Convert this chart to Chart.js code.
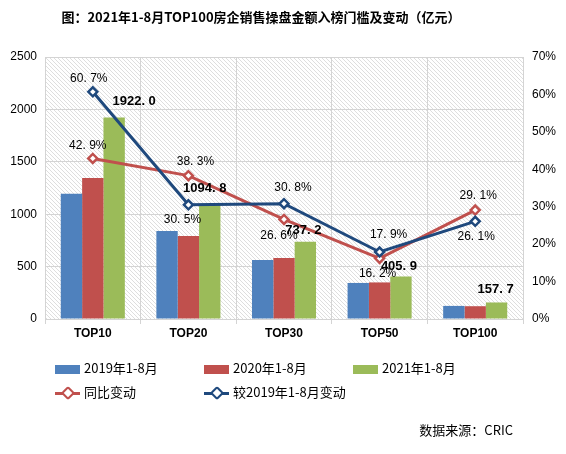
<!DOCTYPE html>
<html>
<head>
<meta charset="utf-8">
<script src="https://cdn.jsdelivr.net/npm/chart.js@4/dist/chart.umd.min.js"></script>
<style>
    body { margin: 0; background: #fff; font-family: 'Liberation Sans', Arial, sans-serif; }
    #wrap { position: relative; width: 566px; height: 454px; overflow: hidden; }
    #chart { position: absolute; left: 0; top: 0; }
    #title { position: absolute; left: 0; width: 522px; top: 7px; text-align: center;
        font: bold 13px 'Noto Sans CJK SC', sans-serif; color: #000; }
    .item { position: absolute; font: 13px 'Noto Sans CJK SC', sans-serif; color: #000; line-height: 16px; }
    .item i { display: inline-block; vertical-align: middle; margin-right: 4px; }
    .sw { width: 25px; height: 9px; }
    .ln { width: 25px; height: 3px; position: relative; }
    .ln b { position: absolute; left: 8px; top: -3.5px; width: 6px; height: 6px; background: #fff;
        border: 2px solid; transform: rotate(45deg); border-radius: 2px; }
    #src { position: absolute; right: 53px; top: 420px; font: 13px 'Noto Sans CJK SC', sans-serif; }
</style>
</head>
<body>
<div id="wrap">
    <canvas id="chart" width="566" height="454"></canvas>
    <div id="title">图：2021年1-8月TOP100房企销售操盘金额入榜门槛及变动（亿元）</div>
    <div class="item" style="left:55px;top:360px"><i class="sw" style="background:#4F81BD"></i>2019年1-8月</div>
    <div class="item" style="left:204px;top:360px"><i class="sw" style="background:#C0504D"></i>2020年1-8月</div>
    <div class="item" style="left:353px;top:360px"><i class="sw" style="background:#9BBB59"></i>2021年1-8月</div>
    <div class="item" style="left:55px;top:384px"><i class="ln" style="background:#C0504D"><b style="border-color:#C0504D"></b></i>同比变动</div>
    <div class="item" style="left:204px;top:384px"><i class="ln" style="background:#1F497D"><b style="border-color:#1F497D"></b></i>较2019年1-8月变动</div>
    <div id="src">数据来源：CRIC</div>
</div>
<script>
const categories = ['TOP10', 'TOP20', 'TOP30', 'TOP50', 'TOP100'];
const amount2019 = [1196, 839, 564, 344, 125];
const amount2020 = [1345, 792, 582, 349, 122];
const amount2021 = [1922.0, 1094.8, 737.2, 405.9, 157.7];
const yoyChange = [42.9, 38.3, 26.6, 16.2, 29.1];
const vs2019Change = [60.7, 30.5, 30.8, 17.9, 26.1];
const leftTicks = [0, 500, 1000, 1500, 2000, 2500];
const rightTicks = [0, 10, 20, 30, 40, 50, 60, 70];

// label offsets (px) per point, tuned to the reference
const labelOffsets = {
    2: [[20, -16], [-5, -16], [-2, -11], [-2, -10], [-1, -13]],
    3: [[-5, -13], [7, -14], [-5, 16], [-2, 15], [3, -14]],
    4: [[-4, -13], [-6, 15], [9, -16], [9, -17], [1, 15]]
};

let hatch = null;
function getHatch(ctx) {
    if (hatch) return hatch;
    const c = document.createElement('canvas');
    c.width = 4; c.height = 4;
    const g = c.getContext('2d');
    g.fillStyle = '#fff';
    g.fillRect(0, 0, 4, 4);
    g.strokeStyle = '#dedede';
    g.lineWidth = 1;
    g.beginPath();
    g.moveTo(-1, -1); g.lineTo(5, 5);
    g.moveTo(-1, 3); g.lineTo(1, 5);
    g.moveTo(3, -1); g.lineTo(5, 1);
    g.stroke();
    hatch = ctx.createPattern(c, 'repeat');
    return hatch;
}

const hatchPlugin = {
    id: 'hatch',
    beforeDraw(chart) {
        const a = chart.chartArea;
        const ctx = chart.ctx;
        ctx.save();
        ctx.fillStyle = getHatch(ctx);
        ctx.fillRect(a.left, a.top, a.right - a.left, a.bottom - a.top);
        ctx.restore();
    }
};

const labelPlugin = {
    id: 'valueLabels',
    afterDatasetsDraw(chart) {
        const ctx = chart.ctx;
        ctx.save();
        ctx.textAlign = 'center';
        ctx.textBaseline = 'middle';
        ctx.fillStyle = '#000';
        for (const idx of [2, 3, 4]) {
            const meta = chart.getDatasetMeta(idx);
            const ds = chart.data.datasets[idx];
            meta.data.forEach((el, i) => {
                const off = labelOffsets[idx][i];
                let text;
                if (idx === 2) {
                    ctx.font = 'bold 13px "Liberation Sans", Arial, sans-serif';
                    text = ds.data[i].toFixed(1).replace('.', '. ');
                } else {
                    ctx.font = '12px "Liberation Sans", Arial, sans-serif';
                    text = ds.data[i].toFixed(1).replace('.', '. ') + '%';
                }
                ctx.fillText(text, el.x + off[0], el.y + off[1]);
            });
        }
        ctx.restore();
    }
};

const tickFont = { family: '"Liberation Sans", Arial, sans-serif', size: 12 };

new Chart(document.getElementById('chart'), {
    data: {
        labels: categories,
        datasets: [
            { type: 'bar', label: '2019年1-8月', data: amount2019, backgroundColor: '#4F81BD', yAxisID: 'y', order: 2 },
            { type: 'bar', label: '2020年1-8月', data: amount2020, backgroundColor: '#C0504D', yAxisID: 'y', order: 2 },
            { type: 'bar', label: '2021年1-8月', data: amount2021, backgroundColor: '#9BBB59', yAxisID: 'y', order: 2 },
            { type: 'line', label: '同比变动', data: yoyChange, borderColor: '#C0504D', borderWidth: 3,
              pointStyle: 'rectRot', pointRadius: 4.5, pointBorderWidth: 2.5, pointBackgroundColor: '#fff',
              pointBorderColor: '#C0504D', yAxisID: 'y1', order: 1 },
            { type: 'line', label: '较2019年1-8月变动', data: vs2019Change, borderColor: '#1F497D', borderWidth: 3,
              pointStyle: 'rectRot', pointRadius: 4.5, pointBorderWidth: 2.5, pointBackgroundColor: '#fff',
              pointBorderColor: '#1F497D', yAxisID: 'y1', order: 0 }
        ]
    },
    options: {
        responsive: false,
        animation: false,
        layout: { padding: { top: 57, bottom: 111, left: 0, right: 0 } },
        datasets: { bar: { categoryPercentage: 0.67, barPercentage: 1.0 } },
        plugins: { legend: { display: false }, tooltip: { enabled: false } },
        scales: {
            x: {
                grid: { color: '#d4d4d4', offset: true, tickLength: 5, drawOnChartArea: true },
                border: { color: '#d4d4d4' },
                ticks: { color: '#000', padding: 2, font: { family: '"Liberation Sans", Arial, sans-serif', size: 12, weight: 'bold' } },
                afterFit(s) { s.height = 24; }
            },
            y: {
                position: 'left',
                min: 0, max: 2500,
                afterBuildTicks(s) { s.ticks = leftTicks.map(v => ({ value: v })); },
                grid: { color: '#d4d4d4', drawTicks: false },
                border: { display: false },
                ticks: { color: '#000', padding: 8, font: tickFont, callback: v => String(v) },
                afterFit(s) { s.width = 45; }
            },
            y1: {
                position: 'right',
                min: 0, max: 70,
                afterBuildTicks(s) { s.ticks = rightTicks.map(v => ({ value: v })); },
                grid: { display: false, drawTicks: false },
                border: { display: false },
                ticks: { color: '#000', padding: 9, font: tickFont, callback: v => v + '%' },
                afterFit(s) { s.width = 43; }
            }
        }
    },
    plugins: [hatchPlugin, labelPlugin]
});
</script>
</body>
</html>
